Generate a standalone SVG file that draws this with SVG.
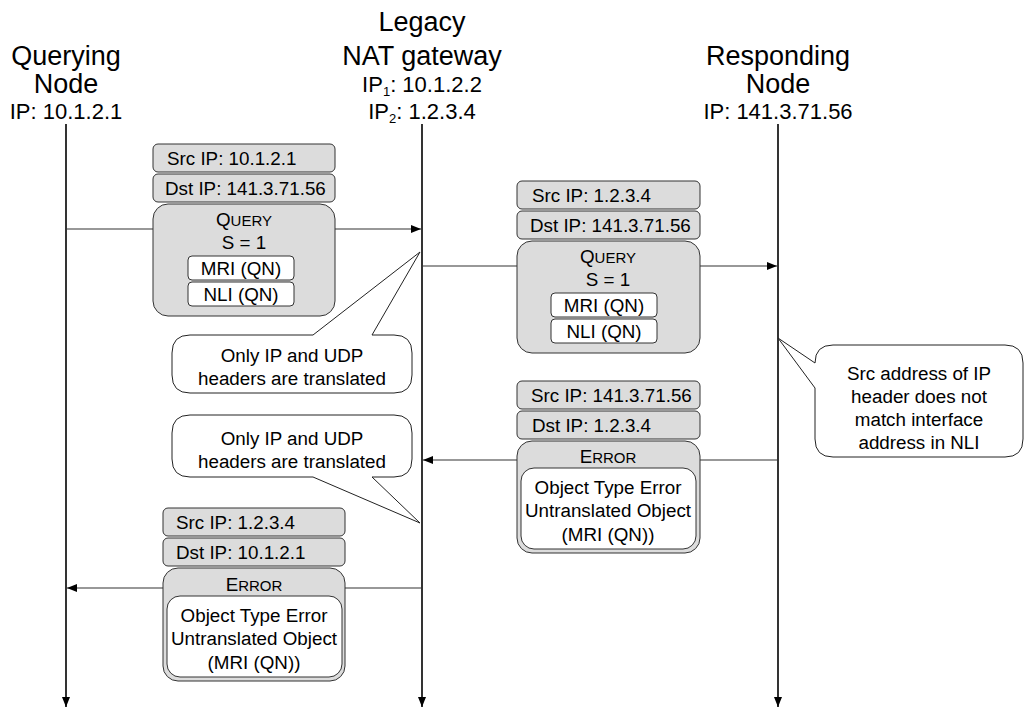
<svg xmlns="http://www.w3.org/2000/svg" width="1025" height="716" viewBox="0 0 1025 716">
<defs>
<marker id="ah" markerWidth="10" markerHeight="8" refX="10" refY="4" orient="auto" markerUnits="userSpaceOnUse">
<path d="M0,0 L10,4 L0,8 Z" fill="#000"/>
</marker>
<style>
text{font-family:"Liberation Sans",Arial,sans-serif;fill:#000}
.name{font-size:27px;text-anchor:middle}
.ip{font-size:22px;text-anchor:middle}
.t{font-size:18.8px}
.c{text-anchor:middle}
.hdr{fill:#dcdcdc;stroke:#333;stroke-width:1}
.msg{fill:#dcdcdc;stroke:#333;stroke-width:1}
.in{fill:#fff;stroke:#333;stroke-width:1}
.life{stroke:#000;stroke-width:1.6;fill:none}
.arr{stroke:#333;stroke-width:1.2;fill:none}
.call{fill:#fff;stroke:#222;stroke-width:1}
</style>
</defs>
<g id="connectors">
<line class="life" x1="66" y1="124" x2="66" y2="707" marker-end="url(#ah)"/>
<line class="life" x1="422" y1="124" x2="422" y2="707" marker-end="url(#ah)"/>
<line class="life" x1="778" y1="124" x2="778" y2="707" marker-end="url(#ah)"/>
<line class="arr" x1="66" y1="229" x2="421" y2="229" marker-end="url(#ah)"/>
<line class="arr" x1="422" y1="266" x2="777" y2="266" marker-end="url(#ah)"/>
<line class="arr" x1="778" y1="460" x2="423" y2="460" marker-end="url(#ah)"/>
<line class="arr" x1="422" y1="588" x2="67" y2="588" marker-end="url(#ah)"/>
</g>
<g id="querying-node">
<text class="name" x="66" y="65">Querying</text>
<text class="name" x="66" y="93">Node</text>
<text class="ip" x="66" y="119">IP: 10.1.2.1</text>
</g>
<g id="nat-gateway">
<text class="name" x="422" y="31">Legacy</text>
<text class="name" x="422" y="65">NAT gateway</text>
<text class="ip" x="422" y="92">IP<tspan font-size="13" dy="4">1</tspan><tspan dy="-4">: 10.1.2.2</tspan></text>
<text class="ip" x="422" y="119">IP<tspan font-size="13" dy="4">2</tspan><tspan dy="-4">: 1.2.3.4</tspan></text>
</g>
<g id="responding-node">
<text class="name" x="778" y="65">Responding</text>
<text class="name" x="778" y="93">Node</text>
<text class="ip" x="778" y="119">IP: 141.3.71.56</text>
</g>
<g id="msg-query-1">
<rect class="hdr" x="153" y="144" width="182" height="28" rx="5"/>
<text class="t" x="167" y="165">Src IP: 10.1.2.1</text>
<rect class="hdr" x="153" y="174" width="182" height="28" rx="5"/>
<text class="t" x="165" y="195">Dst IP: 141.3.71.56</text>
<rect class="msg" x="153" y="204" width="182" height="112" rx="15"/>
<text class="t c" x="244" y="226">Q<tspan font-size="15">UERY</tspan></text>
<text class="t c" x="244" y="249">S = 1</text>
<rect class="in" x="188" y="256" width="106" height="24" rx="4"/>
<text class="t c" x="241" y="275">MRI (QN)</text>
<rect class="in" x="188" y="282" width="106" height="24" rx="4"/>
<text class="t c" x="241" y="301">NLI (QN)</text>
</g>
<g id="msg-query-2">
<rect class="hdr" x="517" y="181" width="183" height="28" rx="5"/>
<text class="t" x="532" y="202">Src IP: 1.2.3.4</text>
<rect class="hdr" x="517" y="211" width="183" height="28" rx="5"/>
<text class="t" x="530" y="232">Dst IP: 141.3.71.56</text>
<rect class="msg" x="517" y="241" width="183" height="112" rx="15"/>
<text class="t c" x="608" y="263">Q<tspan font-size="15">UERY</tspan></text>
<text class="t c" x="608" y="286">S = 1</text>
<rect class="in" x="551" y="293" width="106" height="24" rx="4"/>
<text class="t c" x="604" y="312">MRI (QN)</text>
<rect class="in" x="551" y="319" width="106" height="24" rx="4"/>
<text class="t c" x="604" y="338">NLI (QN)</text>
</g>
<g id="msg-error-1">
<rect class="hdr" x="517" y="381" width="183" height="28" rx="5"/>
<text class="t" x="531" y="402">Src IP: 141.3.71.56</text>
<rect class="hdr" x="517" y="411" width="183" height="28" rx="5"/>
<text class="t" x="532" y="432">Dst IP: 1.2.3.4</text>
<rect class="msg" x="517" y="441" width="183" height="112" rx="15"/>
<text class="t c" x="608" y="463">E<tspan font-size="15">RROR</tspan></text>
<rect class="in" x="521" y="468" width="175" height="81" rx="13"/>
<text class="t c" x="608" y="494">Object Type Error</text>
<text class="t c" x="608" y="517">Untranslated Object</text>
<text class="t c" x="608" y="541">(MRI (QN))</text>
</g>
<g id="msg-error-2">
<rect class="hdr" x="163" y="508" width="182" height="28" rx="5"/>
<text class="t" x="176" y="529">Src IP: 1.2.3.4</text>
<rect class="hdr" x="163" y="538" width="182" height="28" rx="5"/>
<text class="t" x="176" y="559">Dst IP: 10.1.2.1</text>
<rect class="msg" x="163" y="568" width="182" height="113" rx="15"/>
<text class="t c" x="254" y="591">E<tspan font-size="15">RROR</tspan></text>
<rect class="in" x="167" y="596" width="175" height="81" rx="13"/>
<text class="t c" x="254" y="622">Object Type Error</text>
<text class="t c" x="254" y="645">Untranslated Object</text>
<text class="t c" x="254" y="669">(MRI (QN))</text>
</g>
<g id="callout-nat-query">
<path class="call" d="M190,335 L313,335 L420,252 L372,335 L394,335 Q412,335 412,353 L412,375 Q412,393 394,393 L190,393 Q172,393 172,375 L172,353 Q172,335 190,335 Z"/>
<text class="t c" x="292" y="362">Only IP and UDP</text>
<text class="t c" x="292" y="385">headers are translated</text>
</g>
<g id="callout-nat-error">
<path class="call" d="M190,415 L394,415 Q412,415 412,433 L412,459 Q412,477 394,477 L372,477 L420,523 L313,477 L190,477 Q172,477 172,459 L172,433 Q172,415 190,415 Z"/>
<text class="t c" x="292" y="445">Only IP and UDP</text>
<text class="t c" x="292" y="468">headers are translated</text>
</g>
<g id="callout-responder">
<path class="call" d="M833,345 L1005,345 Q1023,345 1023,363 L1023,439 Q1023,457 1005,457 L833,457 Q815,457 815,439 L815,388 L778,338 L815,363 Q815,345 833,345 Z"/>
<text class="t c" x="919" y="380">Src address of IP</text>
<text class="t c" x="919" y="403">header does not</text>
<text class="t c" x="919" y="426">match interface</text>
<text class="t c" x="919" y="449">address in NLI</text>
</g>
</svg>
